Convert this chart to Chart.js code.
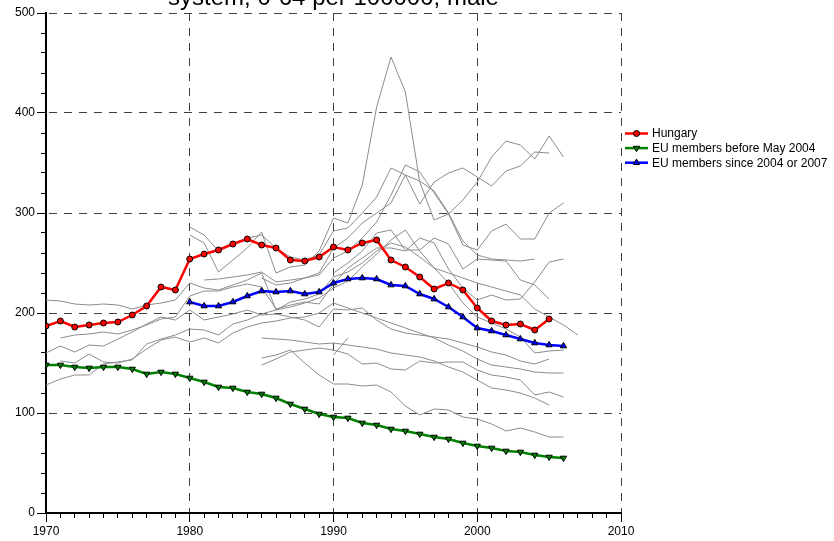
<!DOCTYPE html>
<html>
<head>
<meta charset="utf-8">
<script src="https://cdn.jsdelivr.net/npm/chart.js@4.4.1/dist/chart.umd.min.js"></script>
<style>
html, body { margin: 0; padding: 0; background: #fff; overflow: hidden; }
</style>
</head>
<body>
<canvas id="myChart" width="834" height="541"></canvas>
<script>
const titleText = 'system, 0-64 per 100000, male';

const xTicks = [1970, 1980, 1990, 2000, 2010];
const yTicks = [0, 100, 200, 300, 400, 500];

// main series
const hungaryStart = 1970;
const hungary = [187,192,186,188,190,191,198,207,226,223, 254,259,263,269,274,268,265,253,252,256,
                 266,263,270,273,253,246,236,224,230,223, 205,192,188,189,183,194];
const euOldStart = 1970;
const euOld = [148,148,146,145,146,146,144,139,141,139, 135,131,126,125,121,119,115,109,104,99,
               96,95,90,88,84,82,79,76,74,70, 67,65,62,61,58,56,55];
const euNewStart = 1980;
const euNew = [211,207,207,211,217,222,221,222,219,221, 230,234,235,234,228,227,219,214,206,196,
               185,182,178,174,170,168,167];

// single countries (grey), first year of each line
const greyStart = [1970, 1971, 1970, 1970, 1971, 1980, 1980, 1981, 1985, 1990, 1985, 1985, 1985, 1990];
const c01 = [213,212,209,208,209,208,204,208,210,213, 230,225,223,228,233,240,203,211,214,219,
             236,241,250,262,270,266,256,245,240,235, 230,226,222,218,204,196,188,178];
const c02 = [175,178,179,181,179,183,188,194,196, 217,222,222,226,229,226,204,208,211,209,
             229,245,255,265,265,262,275,270,244,225, 213,218,213,214,231,251,254];
const c03 = [160,167,161,168,167,174,181,189,196,193, 203,193,196,199,203,198,199,196,193,186,
             204,203,205,193,184,180,178,176,174,170, 166,161,158,152,149,154];
const c04 = [128,134,138,138,149,151,153,169,174,178, 184,183,178,189,193,199,203,206,210,215,
             225,232,246,259,273,283,262,245,230,210, 196,190,184,176,160,162,163];
const c05 = [152,150,159,151,150,154,164,173,176, 171,175,170,180,186,190,192,195,196,200,
             210,205,200,195,190,185,180,175,168,162, 154,148,146,144,141,140,140];
const c06 = [278,270,241,253,265,281,240,246,248,262, 295,290,328,406,456,421,331,293,299,313,
             331,356,372,368,354,377,356];
const c07 = [286,278,262,270,275,278,265,256,253,258, 282,285,300,316,345,338,309,331,340,345,
             336,327,342,347,361,360];
const c08 = [233,234,236,238,241,231,233,235,238, 255,262,275,291,318,348,341,320,299,268,
             263,282,289,274,274,300,310];
const c09 = [235,228,230,235,240, 265,275,290,300,310,338,332,322,300,272, 258,254,253,252,254];
const c10 = [240,250,262,280,283,263,263,275,269,244, 254,253,252,233,228,214];
const c11 = [148,154,161,163,165, 163,159,149,150,144,143,152,150,151,151, 143,138,136,133,118,121,116];
const c12 = [155,158,163,150,138, 129,129,127,128,121,107,98,104,103,96, 94,89,82,85,81,76,76];
const c13 = [175,174,173,171,169, 170,168,166,164,160,158,156,152,146,141, 133,125,123,120,115,108];
const c14 = [158,175];
const greyLines = [c01,c02,c03,c04,c05,c06,c07,c08,c09,c10,c11,c12,c13,c14];

function pts(start, vals) {
  return vals.map((v, i) => ({x: start + i, y: v}));
}

const gridColor = '#404040';
const clear = 'rgba(0,0,0,0)';

const datasets = [
  {label: 'Hungary', data: pts(hungaryStart, hungary), borderColor: '#ff0000', borderWidth: 2.5,
   pointStyle: 'circle', pointRadius: 3, pointBackgroundColor: '#ff0000', pointBorderColor: '#000', pointBorderWidth: 1},
  {label: 'EU members before May 2004', data: pts(euOldStart, euOld), borderColor: '#008000', borderWidth: 2.5,
   pointStyle: 'triangle', pointRotation: 180, pointRadius: 3.6, pointBackgroundColor: '#008000', pointBorderColor: '#000', pointBorderWidth: 1},
  {label: 'EU members since 2004 or 2007', data: pts(euNewStart, euNew), borderColor: '#0000ff', borderWidth: 2.5,
   pointStyle: 'triangle', pointRadius: 3.6, pointBackgroundColor: '#0000ff', pointBorderColor: '#000', pointBorderWidth: 1}
];
greyLines.forEach((vals, i) => {
  datasets.push({label: '', data: pts(greyStart[i], vals), borderColor: '#8c8c8c', borderWidth: 1, pointRadius: 0});
});

const titlePlugin = {
  id: 'cutTitle',
  afterDraw(chart) {
    const ctx = chart.ctx, a = chart.chartArea;
    ctx.save();
    ctx.font = '24px "Liberation Sans", Arial, sans-serif';
    ctx.fillStyle = '#000';
    ctx.textAlign = 'center';
    ctx.textBaseline = 'alphabetic';
    ctx.fillText(titleText, (a.left + a.right) / 2, 5);
    ctx.restore();
  }
};

const legendPlugin = {
  id: 'sideLegend',
  afterDraw(chart) {
    const ctx = chart.ctx;
    const x0 = chart.chartArea.right + 4;
    let y = 133.5;
    for (let i = 0; i < 3; i++) {
      const ds = chart.data.datasets[i];
      ctx.save();
      ctx.strokeStyle = ds.borderColor;
      ctx.lineWidth = ds.borderWidth;
      ctx.beginPath();
      ctx.moveTo(x0, y);
      ctx.lineTo(x0 + 23, y);
      ctx.stroke();
      ctx.fillStyle = ds.pointBackgroundColor;
      ctx.strokeStyle = '#000';
      ctx.lineWidth = 1;
      Chart.helpers.drawPoint(ctx, {pointStyle: ds.pointStyle, radius: ds.pointRadius,
        rotation: ds.pointRotation || 0, borderWidth: 1}, x0 + 11.5, y);
      ctx.fillStyle = '#000';
      ctx.font = '12px "Liberation Sans", Arial, sans-serif';
      ctx.textAlign = 'left';
      ctx.textBaseline = 'middle';
      ctx.fillText(ds.label, x0 + 27, y + 0.5);
      ctx.restore();
      y += 14.6;
    }
  }
};

Chart.defaults.font.family = '"Liberation Sans", Arial, sans-serif';
Chart.defaults.font.size = 12;
Chart.defaults.color = '#000';

const ctx = document.getElementById('myChart').getContext('2d');

const isMajorX = (c) => c.tick && xTicks.includes(c.tick.value);
const isMajorY = (c) => c.tick && yTicks.includes(c.tick.value);

const myChart = new Chart(ctx, {
  type: 'line',
  data: {datasets: datasets},
  options: {
    responsive: false,
    animation: false,
    events: [],
    layout: {padding: {top: 13, right: 213, left: 0, bottom: 0}},
    elements: {line: {tension: 0, fill: false}},
    plugins: {legend: {display: false}, tooltip: {enabled: false}, title: {display: false}},
    scales: {
      x: {
        type: 'linear', min: 1970, max: 2010,
        afterFit: (s) => { s.height = 28; },
        ticks: {stepSize: 1, autoSkip: false, maxRotation: 0, minRotation: 0, padding: 2,
          callback: (v) => xTicks.includes(v) ? String(v) : ''},
        grid: {
          color: (c) => isMajorX(c) && c.tick.value !== 1970 ? gridColor : clear,
          lineWidth: 1, tickLength: 9, tickColor: '#000', tickWidth: 1,
          tickBorderDash: (c) => isMajorX(c) ? [] : [4, 20]
        },
        border: {display: true, color: '#000', width: 2, dash: [8, 7]}
      },
      y: {
        min: 0, max: 500,
        afterFit: (s) => { s.width = 46; },
        ticks: {stepSize: 20, autoSkip: false, padding: 2,
          callback: (v) => yTicks.includes(v) ? String(v) : ''},
        grid: {
          color: (c) => isMajorY(c) && c.tick.value !== 0 ? gridColor : clear,
          lineWidth: 1, tickLength: 9, tickColor: '#000', tickWidth: 1,
          tickBorderDash: (c) => isMajorY(c) ? [] : [5, 4],
          tickBorderDashOffset: (c) => isMajorY(c) ? 0 : 5
        },
        border: {display: true, color: '#000', width: 2, dash: [8, 7], dashOffset: -2}
      }
    }
  },
  plugins: [titlePlugin, legendPlugin]
});
</script>
</body>
</html>
